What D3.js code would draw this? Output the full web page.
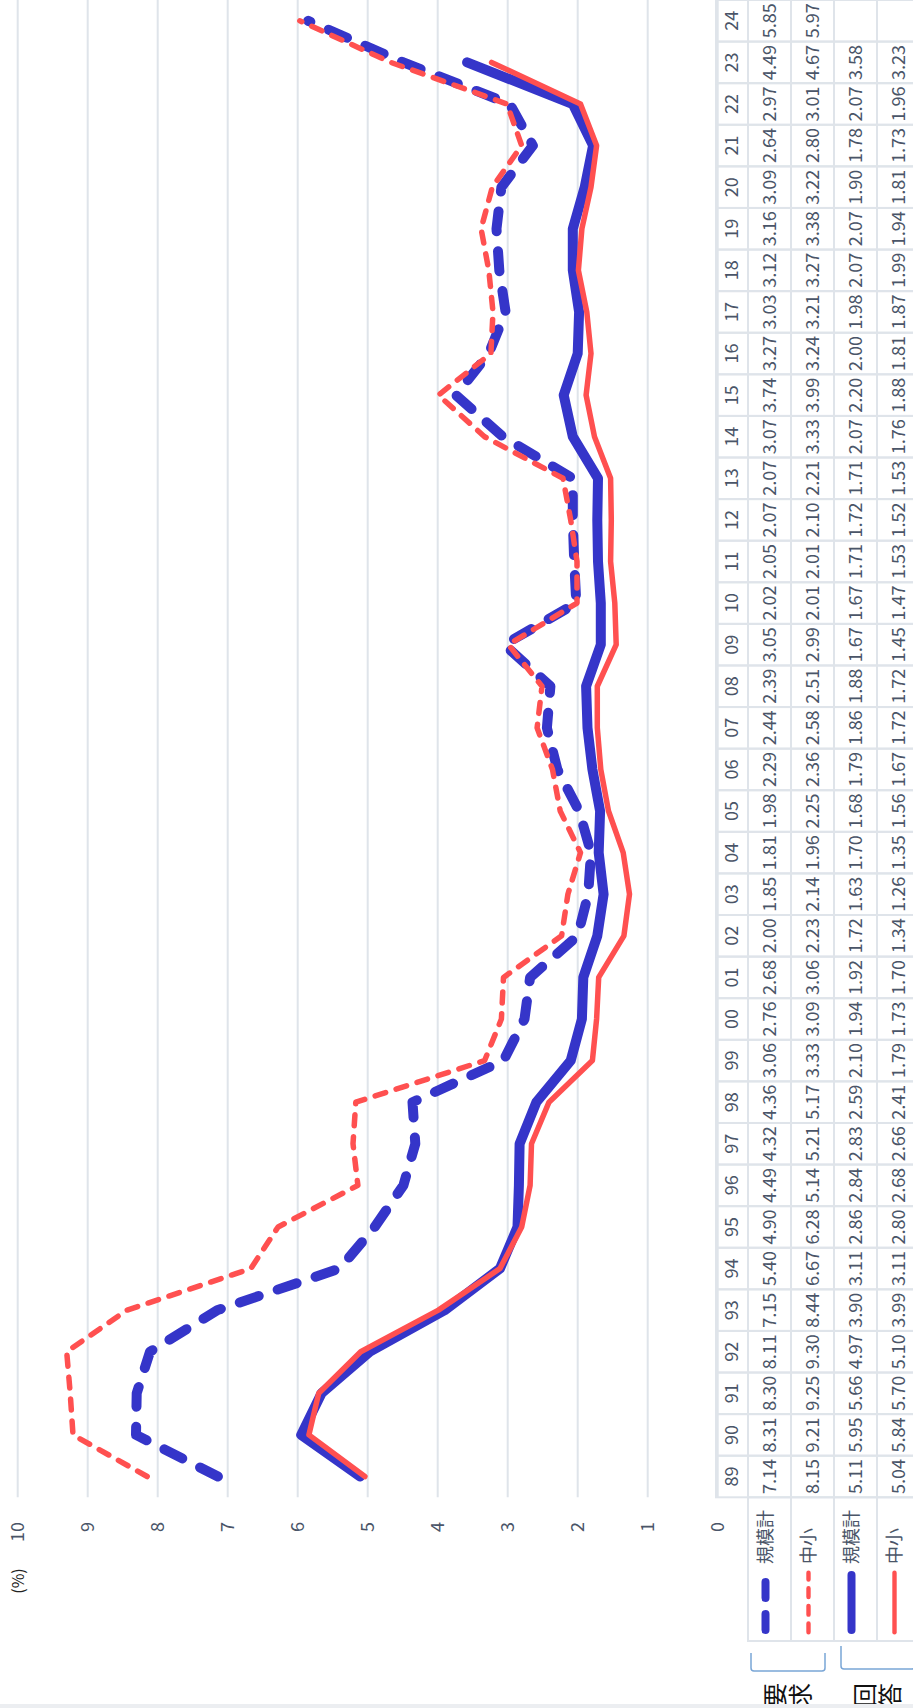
<!DOCTYPE html>
<meta charset="utf-8">
<style>
  body { margin: 0; background: #fff; }
  text { font-family: "Noto Sans CJK JP", "Noto Sans", sans-serif; }
  .grid line { stroke: #dfe4ea; stroke-width: 2; }
  .cell { fill: none; stroke: #dfe4ea; stroke-width: 2; }
  .tick { fill: #4a5568; font-size: 18px; }
  .val { fill: #4a5568; font-size: 18px; }
</style>
<body>
<script src="https://d3js.org/d3.v7.min.js"></script>
<script>
// years along the (rotated) category axis
var years = ['89','90','91','92','93','94','95','96','97','98','99','00','01','02','03','04','05','06','07','08','09','10','11','12','13','14','15','16','17','18','19','20','21','22','23','24'];

var reqAll   = [7.14,8.31,8.30,8.11,7.15,5.40,4.90,4.49,4.32,4.36,3.06,2.76,2.68,2.00,1.85,1.81,1.98,2.29,2.44,2.39,3.05,2.02,2.05,2.07,2.07,3.07,3.74,3.27,3.03,3.12,3.16,3.09,2.64,2.97,4.49,5.85];
var reqSmall = [8.15,9.21,9.25,9.30,8.44,6.67,6.28,5.14,5.21,5.17,3.33,3.09,3.06,2.23,2.14,1.96,2.25,2.36,2.58,2.51,2.99,2.01,2.01,2.10,2.21,3.33,3.99,3.24,3.21,3.27,3.38,3.22,2.80,3.01,4.67,5.97];
var ansAll   = [5.11,5.95,5.66,4.97,3.90,3.11,2.86,2.84,2.83,2.59,2.10,1.94,1.92,1.72,1.63,1.70,1.68,1.79,1.86,1.88,1.67,1.67,1.71,1.72,1.71,2.07,2.20,2.00,1.98,2.07,2.07,1.90,1.78,2.07,3.58,null];
var ansSmall = [5.04,5.84,5.70,5.10,3.99,3.11,2.80,2.68,2.66,2.41,1.79,1.73,1.70,1.34,1.26,1.35,1.56,1.67,1.72,1.72,1.45,1.47,1.53,1.52,1.53,1.76,1.88,1.81,1.87,1.99,1.94,1.81,1.73,1.96,3.23,null];

var seriesNames = ['規模計','中小','規模計','中小'];
var groupNames = ['要求','回答'];
var yTicks = [0,1,2,3,4,5,6,7,8,9,10];

var W = 1708, H = 913;   // chart is drawn unrotated, then turned 90deg
var blue = '#3535c9', red = '#ff5050';

var series = [
  {vals: reqAll,   color: blue, width: 10, dash: '20,20'},
  {vals: reqSmall, color: red,  width: 5.5, dash: '11,11'},
  {vals: ansAll,   color: blue, width: 10, dash: null},
  {vals: ansSmall, color: red,  width: 5.5, dash: null}
];

var svg = d3.select('body').append('svg')
    .attr('width', 913)
    .attr('height', 1708);

var g = svg.append('g')
    .attr('transform', 'translate(0,' + W + ') rotate(-90)');

var x = d3.scaleBand().domain(years).range([210.7, W]);
var y = d3.scaleLinear().domain([0, 10]).range([717.7, 17.7]);

// gridlines
g.append('g').attr('class', 'grid')
  .selectAll('line')
  .data(yTicks)
  .enter().append('line')
    .attr('x1', x.range()[0])
    .attr('x2', W)
    .attr('y1', function(d) { return y(d); })
    .attr('y2', function(d) { return y(d); });

g.append('g').selectAll('text')
  .data(yTicks)
  .enter().append('text')
    .attr('class', 'tick')
    .attr('x', 186)
    .attr('y', function(d) { return y(d); })
    .attr('dy', '0.35em')
    .attr('text-anchor', 'end')
    .text(function(d) { return d; });

g.append('text')
    .attr('x', 127).attr('y', 18).attr('dy', '0.35em')
    .attr('text-anchor', 'middle')
    .style('font-size', '16px').style('fill', '#222')
    .text('(%)');

// lines
var line = d3.line()
    .defined(function(d) { return d != null; })
    .x(function(d, i) { return x(years[i]) + x.bandwidth() / 2; })
    .y(function(d) { return y(d); });

// solid answer lines underneath, dashed request lines on top
[2, 3, 0, 1].forEach(function(k) {
  var s = series[k];
  g.append('path')
    .datum(s.vals)
    .attr('d', line)
    .attr('fill', 'none')
    .attr('stroke', s.color)
    .attr('stroke-width', s.width)
    .attr('stroke-linecap', 'round')
    .attr('stroke-linejoin', 'round')
    .attr('stroke-dasharray', s.dash);
});

// data table
var headerTop = 716, headerH = 32, rowH = 43;
var rowTops = [0,1,2,3].map(function(i) { return headerTop + headerH + i * rowH; });
var table = g.append('g');

years.forEach(function(yr, i) {
  var x0 = x(yr);
  table.append('rect').attr('class', 'cell')
    .attr('x', x0).attr('y', headerTop)
    .attr('width', x.bandwidth()).attr('height', headerH);
  table.append('text').attr('class', 'val')
    .attr('x', x0 + x.bandwidth() / 2).attr('y', headerTop + headerH / 2)
    .attr('dy', '0.35em').attr('text-anchor', 'middle')
    .text(yr);
  series.forEach(function(s, r) {
    table.append('rect').attr('class', 'cell')
      .attr('x', x0).attr('y', rowTops[r])
      .attr('width', x.bandwidth()).attr('height', rowH);
    if (s.vals[i] != null) {
      table.append('text').attr('class', 'val')
        .attr('x', x0 + x.bandwidth() / 2).attr('y', rowTops[r] + rowH / 2)
        .attr('dy', '0.35em').attr('text-anchor', 'middle')
        .text(s.vals[i].toFixed(2));
    }
  });
});

// row headers with legend keys
var hx0 = 67, hx1 = x.range()[0];
series.forEach(function(s, r) {
  var cy = rowTops[r] + rowH / 2 - 4;
  table.append('rect').attr('class', 'cell')
    .attr('x', hx0).attr('y', rowTops[r])
    .attr('width', hx1 - hx0).attr('height', rowH);
  table.append('line')
    .attr('x1', 73 + s.width / 2).attr('x2', 138 - s.width / 2)
    .attr('y1', cy).attr('y2', cy)
    .attr('stroke', s.color)
    .attr('stroke-width', s.width * 0.8)
    .attr('stroke-linecap', 'round')
    .attr('stroke-dasharray', s.dash ? s.dash.split(',').map(function(v) { return v * 0.8; }).join(',') : null);
  table.append('text').attr('class', 'val')
    .attr('x', 144).attr('y', cy).attr('dy', '0.35em')
    .text(seriesNames[r]);
});

// group brackets
var brackets = [[751, 825, 37, 55], [841, 915, 39, 62]];
brackets.forEach(function(b, k) {
  g.append('path')
    .attr('d', 'M' + b[3] + ',' + b[0] + 'H' + (b[2] + 3) + 'Q' + b[2] + ',' + b[0] + ' ' + b[2] + ',' + (b[0] + 3) +
               'V' + (b[1] - 3) + 'Q' + b[2] + ',' + b[1] + ' ' + (b[2] + 3) + ',' + b[1] + 'H' + b[3])
    .attr('fill', 'none')
    .attr('stroke', '#7aa6d6')
    .attr('stroke-width', 1.5);
  var chars = groupNames[k].split('');
  var cy = (b[0] + b[1]) / 2;
  chars.forEach(function(c, j) {
    g.append('text')
      .attr('x', 13).attr('y', cy + (j - 0.5) * 25).attr('dy', '0.35em')
      .attr('text-anchor', 'middle')
      .style('font-size', '24px').style('fill', '#111')
      .text(c);
  });
});

// outer frame edge
g.append('rect').attr('x', 0).attr('y', 0).attr('width', 4).attr('height', H)
  .attr('fill', '#eceef1');
</script>
</body>
</html>
